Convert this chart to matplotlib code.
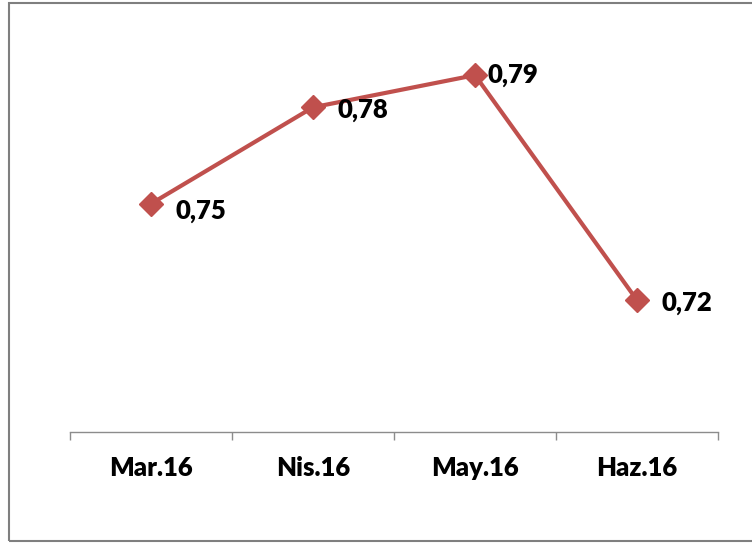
import matplotlib.pyplot as plt
from matplotlib.patches import Rectangle
import numpy as np

# data
aylar = ['Mar.16', 'Nis.16', 'May.16', 'Haz.16']
degerler = [0.75, 0.78, 0.79, 0.72]
etiketler = ['0,75', '0,78', '0,79', '0,72']

renk = '#C0504D'
plt.rcParams['font.family'] = ['Lato', 'DejaVu Sans']

fig = plt.figure(figsize=(7.52, 5.43), dpi=100)
ax = fig.add_axes([70 / 752, 111 / 543, 648 / 752, 389 / 543])

x = np.arange(len(aylar))
ax.plot(x, degerler, color=renk, lw=3, marker='D', ms=12,
        mfc=renk, mec=renk, zorder=3)

# etiketler (sağa, hafif aşağı)
dx = [24, 25, 13, 24]
dy = [-7, -3, 0, -3]
for i, (v, t) in enumerate(zip(degerler, etiketler)):
    ax.annotate(t, (x[i], v), xytext=(dx[i] * 0.72, dy[i] * 0.72),
                textcoords='offset points', ha='left', va='center',
                fontsize=18.5, fontweight='heavy', color='black')

ax.set_xlim(-0.5, len(aylar) - 0.5)
ax.set_ylim(0.679, 0.80)
ax.set_yticks([])
ax.set_xticks(x)
ax.set_xticklabels(aylar, fontsize=18.5, fontweight='heavy')
ax.tick_params(axis='x', length=0, pad=17)
ax.set_xticks(np.arange(len(aylar) + 1) - 0.5, minor=True)
ax.tick_params(axis='x', which='minor', length=6, color='#8C8C8C', width=1)
for s in ['left', 'right', 'top']:
    ax.spines[s].set_visible(False)
ax.spines['bottom'].set_color('#8C8C8C')
ax.spines['bottom'].set_linewidth(1)
ax.patch.set_alpha(0)

# dış çerçeve
fig.patches.append(Rectangle((9 / 752, 2 / 543), 760 / 752, 538 / 543,
                             transform=fig.transFigure, fill=False,
                             edgecolor='#7F7F7F', lw=1.5))

fig.savefig('out.png', dpi=100)
